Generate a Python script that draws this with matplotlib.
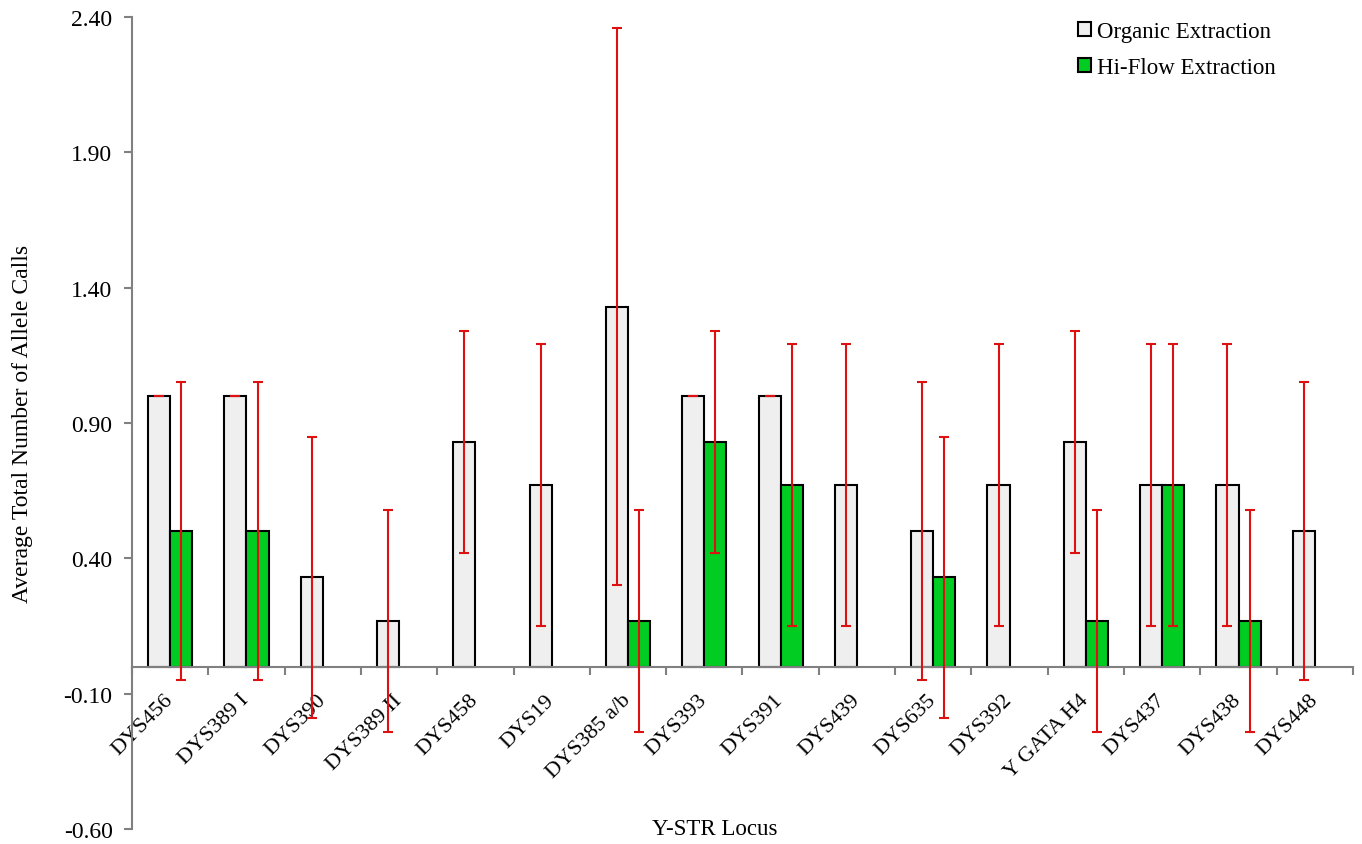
import numpy as np
import matplotlib
matplotlib.use("Agg")
import matplotlib.pyplot as plt
import matplotlib.transforms as mtransforms
from matplotlib.ticker import FixedLocator, FormatStrFormatter

plt.rcParams['font.family'] = ['Liberation Serif', 'DejaVu Serif']

loci = ['DYS456', 'DYS389 I', 'DYS390', 'DYS389 II', 'DYS458', 'DYS19',
        'DYS385 a/b', 'DYS393', 'DYS391', 'DYS439', 'DYS635', 'DYS392',
        'Y GATA H4', 'DYS437', 'DYS438', 'DYS448']
organic = [1.0, 1.0, 0.33, 0.17, 0.83, 0.67, 1.33, 1.0,
           1.0, 0.67, 0.5, 0.67, 0.83, 0.67, 0.67, 0.5]
organic_sd = [0.0, 0.0, 0.52, 0.41, 0.41, 0.52, 1.03, 0.0,
              0.0, 0.52, 0.55, 0.52, 0.41, 0.52, 0.52, 0.55]
hiflow = [0.5, 0.5, 0.0, 0.0, 0.0, 0.0, 0.17, 0.83,
          0.67, 0.0, 0.33, 0.0, 0.17, 0.67, 0.17, 0.0]
hiflow_sd = [0.55, 0.55, np.nan, np.nan, np.nan, np.nan, 0.41, 0.41,
             0.52, np.nan, 0.52, np.nan, 0.41, 0.52, 0.41, np.nan]

GRAY = '#EFEFEF'
GREEN = '#00CC22'
RED = '#DD1111'
AXIS = '#808080'

fig = plt.figure(figsize=(13.62, 8.45), dpi=100)
ax = fig.add_axes([0.0969, 0.0178, 0.8965, 0.9609])

x = np.arange(len(loci))
w = 0.29
b1 = ax.bar(x - w / 2, organic, w, color=GRAY, edgecolor='black', lw=1.5,
            label='Organic Extraction', zorder=2)
b2 = ax.bar(x + w / 2, hiflow, w, color=GREEN, edgecolor='black', lw=1.5,
            label='Hi-Flow Extraction', zorder=2)
# empty bars leave no outline on the axis
for p in list(b1) + list(b2):
    if p.get_height() == 0:
        p.set_linewidth(0)

ax.errorbar(x - w / 2, organic, yerr=organic_sd, fmt='none', ecolor=RED,
            elinewidth=1.5, capsize=3.5, capthick=1.5, zorder=3)
ax.errorbar(x + w / 2, hiflow, yerr=hiflow_sd, fmt='none', ecolor=RED,
            elinewidth=1.5, capsize=3.5, capthick=1.5, zorder=3)

ax.set_xlim(-0.5, len(loci) - 0.5)
ax.set_ylim(-0.6, 2.4)
ax.yaxis.set_major_locator(FixedLocator(np.arange(-0.6, 2.41, 0.5)))
ax.yaxis.set_major_formatter(FormatStrFormatter('%.2f'))

for s in ['top', 'right']:
    ax.spines[s].set_visible(False)
ax.spines['bottom'].set_position(('data', 0))
for s in ['left', 'bottom']:
    ax.spines[s].set_color(AXIS)
    ax.spines[s].set_linewidth(1.5)

ax.set_xticks(x)
ax.set_xticklabels(loci, rotation=45, ha='right', va='center',
                   rotation_mode='anchor', fontsize=16)
shift = mtransforms.ScaledTranslation(3 / 100, 0, fig.dpi_scale_trans)
for lab in ax.get_xticklabels():
    lab.set_transform(lab.get_transform() + shift)
ax.set_xticks(np.arange(-0.5, len(loci), 1.0), minor=True)
ax.tick_params(axis='x', which='major', length=0, pad=22)
ax.tick_params(axis='x', which='minor', length=6, width=1.5, color=AXIS,
               direction='out')
ax.tick_params(axis='y', length=6, width=1.5, color=AXIS, labelsize=17,
               direction='out', pad=8)

ax.set_ylabel('Average Total Number of Allele Calls', fontsize=17, labelpad=22)
ax.text(0.477, 0.0, 'Y-STR Locus', transform=ax.transAxes, fontsize=16.5,
        ha='center', va='center')

fig.legend(loc='upper left', bbox_to_anchor=(1078 / 1362, 1 - 22 / 845),
           frameon=False, fontsize=16.5, handlelength=0.55, handleheight=0.55,
           handletextpad=0.3, labelspacing=0.65, borderpad=0,
           borderaxespad=0)

fig.savefig('out.png', dpi=100)
